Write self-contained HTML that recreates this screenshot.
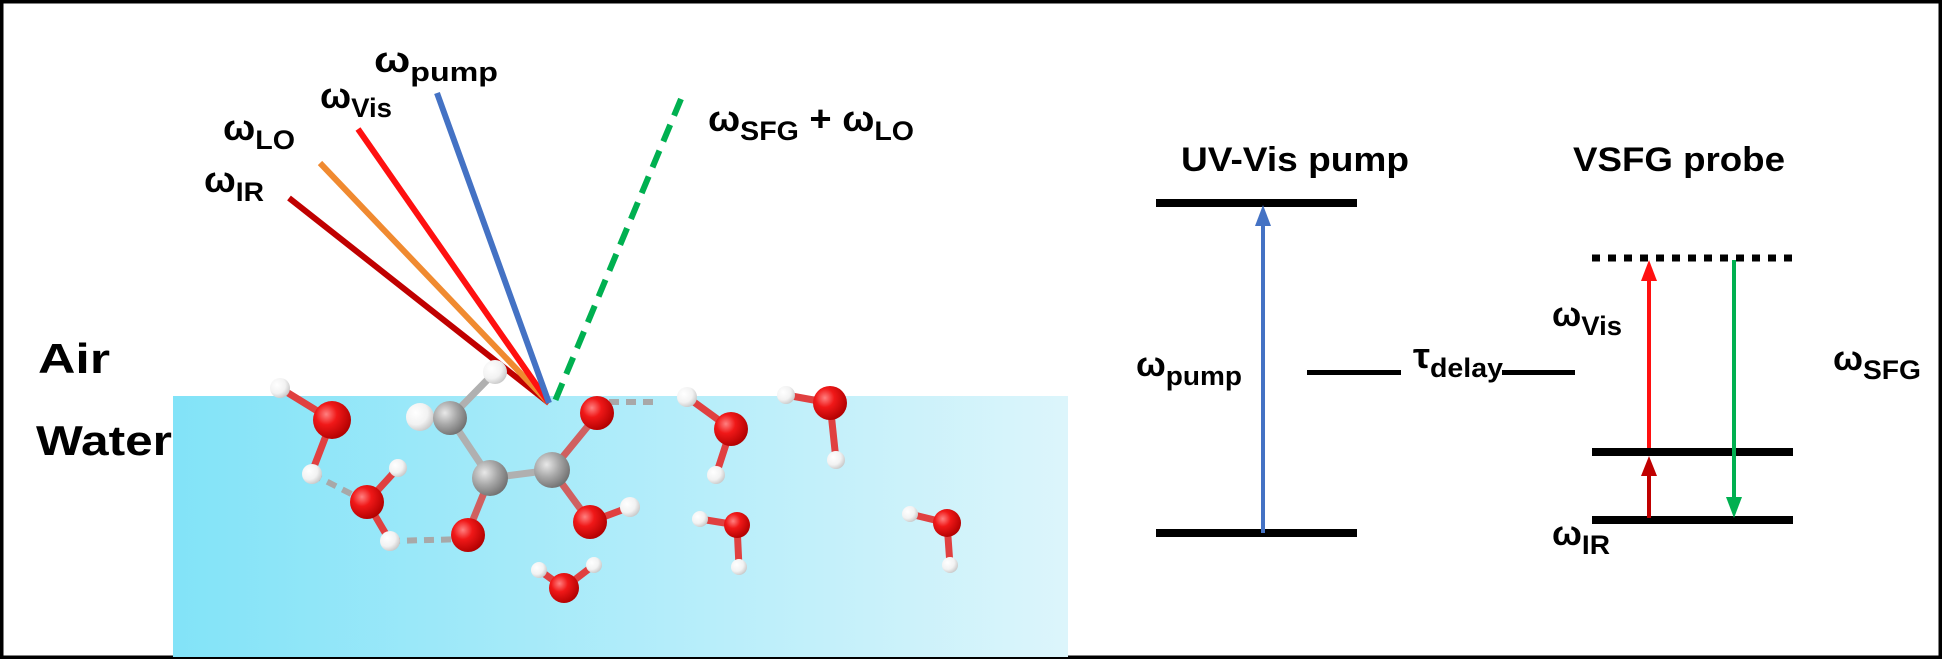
<!DOCTYPE html>
<html><head><meta charset="utf-8"><style>
html,body{margin:0;padding:0;background:#fff}
svg{display:block}
text{font-family:"Liberation Sans",Arial,sans-serif;fill:#000}
</style></head><body>
<svg width="1942" height="659" viewBox="0 0 1942 659" xmlns="http://www.w3.org/2000/svg">
<defs>
<linearGradient id="wg" x1="0" x2="1" y1="0" y2="0"><stop offset="0" stop-color="#82e3f8"/><stop offset="1" stop-color="#dcf5fb"/></linearGradient>
<radialGradient id="ro" cx="0.35" cy="0.35" r="0.7"><stop offset="0" stop-color="#ff8080"/><stop offset="0.4" stop-color="#f01818"/><stop offset="1" stop-color="#b00000"/></radialGradient>
<radialGradient id="rh" cx="0.35" cy="0.35" r="0.7"><stop offset="0" stop-color="#ffffff"/><stop offset="0.6" stop-color="#f2f2f2"/><stop offset="1" stop-color="#c8c8c8"/></radialGradient>
<radialGradient id="rc" cx="0.35" cy="0.35" r="0.7"><stop offset="0" stop-color="#e8e8e8"/><stop offset="0.5" stop-color="#a8a8a8"/><stop offset="1" stop-color="#707070"/></radialGradient>
</defs>
<rect x="1.5" y="1.5" width="1939" height="656" fill="#fff" stroke="#000" stroke-width="4"/>
<rect x="173" y="396" width="895" height="261" fill="url(#wg)"/>
<text x="38" y="373" font-size="42" font-weight="bold" textLength="72" lengthAdjust="spacingAndGlyphs">Air</text>
<text x="36" y="455" font-size="42" font-weight="bold" textLength="136" lengthAdjust="spacingAndGlyphs">Water</text>

<!-- beams -->
<line x1="289" y1="198" x2="549" y2="403" stroke="#c00000" stroke-width="6"/>
<line x1="320" y1="163" x2="549" y2="403" stroke="#f08a30" stroke-width="6"/>
<line x1="358" y1="129" x2="549" y2="403" stroke="#ff1010" stroke-width="6"/>
<line x1="437" y1="93" x2="549" y2="403" stroke="#4472c4" stroke-width="6"/>
<line x1="681" y1="99" x2="555" y2="401" stroke="#00b050" stroke-width="6" stroke-dasharray="18,10"/>

<g font-weight="bold">
<text x="374" y="72" font-size="36" textLength="124" lengthAdjust="spacingAndGlyphs">ω<tspan font-size="27" dy="9">pump</tspan></text>
<text x="320" y="108" font-size="36" textLength="72" lengthAdjust="spacingAndGlyphs">ω<tspan font-size="27" dy="9">Vis</tspan></text>
<text x="223" y="140" font-size="36" textLength="72" lengthAdjust="spacingAndGlyphs">ω<tspan font-size="27" dy="9">LO</tspan></text>
<text x="204" y="192" font-size="36" textLength="60" lengthAdjust="spacingAndGlyphs">ω<tspan font-size="27" dy="9">IR</tspan></text>
<text x="708" y="131" font-size="36" textLength="206" lengthAdjust="spacingAndGlyphs">ω<tspan font-size="27" dy="9">SFG</tspan><tspan dy="-9"> + ω</tspan><tspan font-size="27" dy="9">LO</tspan></text>
</g>

<!-- H-bond dashes -->
<g stroke="#a8a8a8" stroke-width="6" stroke-dasharray="10,7">
<line x1="312" y1="474" x2="367" y2="502"/>
<line x1="390" y1="541" x2="468" y2="539"/>
<line x1="592" y1="402" x2="660" y2="402"/>
</g>
<!-- bonds -->
<g stroke-width="7" stroke-linecap="round">
<line x1="280" y1="388" x2="332" y2="420" stroke="#e04040"/>
<line x1="332" y1="420" x2="312" y2="472" stroke="#e04040"/>
<line x1="367" y1="502" x2="398" y2="468" stroke="#e04040"/>
<line x1="367" y1="502" x2="390" y2="541" stroke="#e04040"/>
<line x1="450" y1="418" x2="495" y2="372" stroke="#b0b0b0"/>
<line x1="450" y1="418" x2="420" y2="417" stroke="#b0b0b0"/>
<line x1="450" y1="418" x2="490" y2="478" stroke="#b0b0b0"/>
<line x1="490" y1="478" x2="552" y2="470" stroke="#b0b0b0"/>
<line x1="490" y1="478" x2="468" y2="532" stroke="#d06060"/>
<line x1="552" y1="470" x2="597" y2="415" stroke="#d06060"/>
<line x1="552" y1="470" x2="590" y2="522" stroke="#d06060"/>
<line x1="590" y1="522" x2="630" y2="507" stroke="#e04040"/>
<line x1="731" y1="429" x2="687" y2="397" stroke="#e04040"/>
<line x1="731" y1="429" x2="716" y2="475" stroke="#e04040"/>
<line x1="830" y1="403" x2="786" y2="395" stroke="#e04040"/>
<line x1="830" y1="403" x2="836" y2="460" stroke="#e04040"/>
<line x1="737" y1="525" x2="700" y2="519" stroke="#e04040"/>
<line x1="737" y1="525" x2="739" y2="567" stroke="#e04040"/>
<line x1="947" y1="523" x2="910" y2="514" stroke="#e04040"/>
<line x1="947" y1="523" x2="950" y2="565" stroke="#e04040"/>
<line x1="564" y1="588" x2="539" y2="570" stroke="#e04040"/>
<line x1="564" y1="588" x2="594" y2="565" stroke="#e04040"/>
</g>
<!-- atoms -->
<g>
<circle cx="280" cy="388" r="10" fill="url(#rh)"/>
<circle cx="332" cy="420" r="19" fill="url(#ro)"/>
<circle cx="312" cy="474" r="10" fill="url(#rh)"/>
<circle cx="398" cy="468" r="9" fill="url(#rh)"/>
<circle cx="367" cy="502" r="17" fill="url(#ro)"/>
<circle cx="390" cy="541" r="10" fill="url(#rh)"/>
<circle cx="420" cy="417" r="14" fill="url(#rh)"/>
<circle cx="495" cy="372" r="12" fill="url(#rh)"/>
<circle cx="450" cy="418" r="17" fill="url(#rc)"/>
<circle cx="490" cy="478" r="18" fill="url(#rc)"/>
<circle cx="552" cy="470" r="18" fill="url(#rc)"/>
<circle cx="597" cy="413" r="17" fill="url(#ro)"/>
<circle cx="468" cy="535" r="17" fill="url(#ro)"/>
<circle cx="590" cy="522" r="17" fill="url(#ro)"/>
<circle cx="630" cy="507" r="10" fill="url(#rh)"/>
<circle cx="687" cy="397" r="10" fill="url(#rh)"/>
<circle cx="731" cy="429" r="17" fill="url(#ro)"/>
<circle cx="716" cy="475" r="9" fill="url(#rh)"/>
<circle cx="786" cy="395" r="9" fill="url(#rh)"/>
<circle cx="830" cy="403" r="17" fill="url(#ro)"/>
<circle cx="836" cy="460" r="9" fill="url(#rh)"/>
<circle cx="700" cy="519" r="8" fill="url(#rh)"/>
<circle cx="737" cy="525" r="13" fill="url(#ro)"/>
<circle cx="739" cy="567" r="8" fill="url(#rh)"/>
<circle cx="910" cy="514" r="8" fill="url(#rh)"/>
<circle cx="947" cy="523" r="14" fill="url(#ro)"/>
<circle cx="950" cy="565" r="8" fill="url(#rh)"/>
<circle cx="539" cy="570" r="8" fill="url(#rh)"/>
<circle cx="594" cy="565" r="8" fill="url(#rh)"/>
<circle cx="564" cy="588" r="15" fill="url(#ro)"/>
</g>

<!-- energy diagram -->
<g font-weight="bold">
<text x="1181" y="171" font-size="34" textLength="228" lengthAdjust="spacingAndGlyphs">UV-Vis pump</text>
<text x="1573" y="171" font-size="34" textLength="212" lengthAdjust="spacingAndGlyphs">VSFG probe</text>
</g>
<rect x="1156" y="199" width="201" height="8" fill="#000"/>
<rect x="1156" y="529" width="201" height="8" fill="#000"/>
<line x1="1263" y1="533" x2="1263" y2="225" stroke="#4472c4" stroke-width="4"/>
<polygon points="1263,205 1255,226 1271,226" fill="#4472c4"/>
<g font-weight="bold">
<text x="1136" y="376" font-size="34" textLength="106" lengthAdjust="spacingAndGlyphs">ω<tspan font-size="27" dy="9">pump</tspan></text>
<text x="1413" y="368" font-size="36" textLength="90" lengthAdjust="spacingAndGlyphs">τ<tspan font-size="27" dy="9">delay</tspan></text>
<text x="1552" y="326" font-size="34" textLength="70" lengthAdjust="spacingAndGlyphs">ω<tspan font-size="27" dy="9">Vis</tspan></text>
<text x="1552" y="545" font-size="34" textLength="58" lengthAdjust="spacingAndGlyphs">ω<tspan font-size="27" dy="9">IR</tspan></text>
<text x="1833" y="370" font-size="34" textLength="88" lengthAdjust="spacingAndGlyphs">ω<tspan font-size="27" dy="9">SFG</tspan></text>
</g>
<rect x="1307" y="370" width="94" height="5" fill="#000"/>
<rect x="1502" y="370" width="73" height="5" fill="#000"/>

<line x1="1592" y1="258" x2="1792" y2="258" stroke="#000" stroke-width="7" stroke-dasharray="8,8"/>
<rect x="1592" y="448" width="201" height="8" fill="#000"/>
<rect x="1592" y="516" width="201" height="8" fill="#000"/>
<line x1="1649" y1="448" x2="1649" y2="280" stroke="#ff1010" stroke-width="4"/>
<polygon points="1649,260 1641,281 1657,281" fill="#ff1010"/>
<line x1="1649" y1="518" x2="1649" y2="474" stroke="#c00000" stroke-width="4"/>
<polygon points="1649,456 1641,476 1657,476" fill="#c00000"/>
<line x1="1734" y1="260" x2="1734" y2="498" stroke="#00b050" stroke-width="4"/>
<polygon points="1734,518 1726,497 1742,497" fill="#00b050"/>
</svg>
</body></html>
